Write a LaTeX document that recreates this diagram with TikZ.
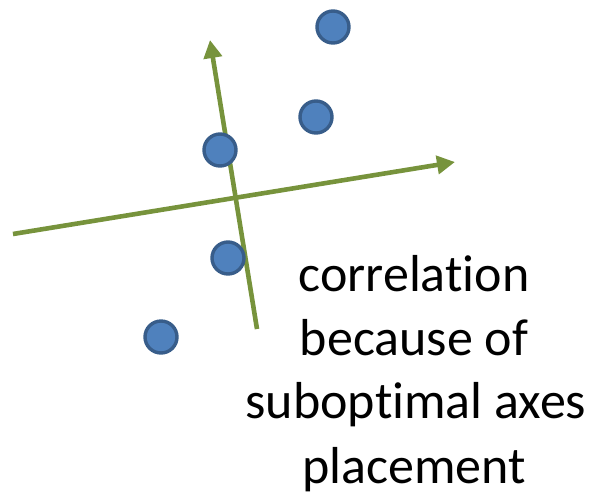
\documentclass[tikz,border=0pt]{standalone}
\usepackage{fontspec}
\setmainfont[Ligatures={NoCommon,NoContextual},RawFeature={-liga;-clig;-calt;-dlig}]{Carlito}
\usetikzlibrary{arrows.meta}
\definecolor{axisgreen}{HTML}{77933C}
\definecolor{dotfill}{HTML}{4F81BD}
\definecolor{dotline}{HTML}{385D8A}
\begin{document}
\begin{tikzpicture}[x=1pt,y=-1pt,
  dot/.style={circle,fill=dotfill,draw=dotline,line width=3.4pt,minimum size=32pt,inner sep=0pt},
  axis/.style={draw=axisgreen,line width=4.6pt,-{Triangle[length=18pt,width=18pt]}},
  lbl/.style={anchor=base,font=\fontsize{52}{64}\selectfont,inner sep=0pt}]
\useasboundingbox (0,0) rectangle (592,491);
\coordinate (h0) at (13,234);
\coordinate (h1) at (455,162);
\coordinate (v0) at (257,329);
\coordinate (v1) at (210,40);
\draw[axis] (h0) -- (h1);
\draw[axis] (v0) -- (v1);
\node[dot] (p1) at (333,27) {};
\node[dot] (p2) at (316,117) {};
\node[dot] (p3) at (220,150) {};
\node[dot] (p4) at (228,258) {};
\node[dot] (p5) at (161,337) {};
\node[lbl] (t1) at (414,291) {correlation};
\node[lbl] (t2) at (414,355) {because of};
\node[lbl] (t3) at (416,418) {suboptimal axes};
\node[lbl] (t4) at (414,483) {placement};
\end{tikzpicture}
\end{document}
